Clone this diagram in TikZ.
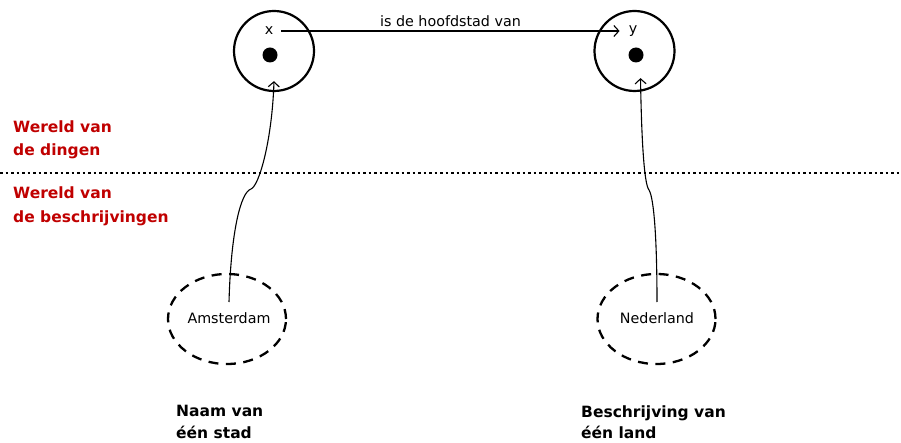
\documentclass[tikz,border=0pt]{standalone}
\usepackage{fontspec}
\setmainfont{DejaVu Sans}
\usetikzlibrary{shapes.geometric, arrows.meta}
\definecolor{wereldrood}{RGB}{192,0,0}

\begin{document}
\begin{tikzpicture}[x=1pt, y=-1pt,
    thing/.style = {draw, circle, line width=2.2pt, minimum size=80pt, inner sep=0pt},
    dot/.style = {circle, fill, minimum size=15pt, inner sep=0pt},
    descr/.style = {draw, ellipse, line width=2.3pt, dash pattern=on 10pt off 7.5pt, minimum width=118pt, minimum height=90pt},
    txt/.style = {font=\fontsize{14.3}{17}\selectfont, inner sep=1pt},
    world/.style = {font=\fontsize{15.5}{23.5}\selectfont\bfseries, text=wereldrood, align=left, anchor=west, inner sep=0pt},
    tag/.style = {font=\fontsize{15.5}{21.5}\selectfont\bfseries, align=left, anchor=west, inner sep=0pt},
    link/.style = {-{Straight Barb[length=5pt, width=11pt, line width=1.1pt]}, line width=1.1pt}]
    \useasboundingbox (0,0) rectangle (901,443);

    \node [thing] (thingx) at (274, 51) {};
    \node [thing] (thingy) at (634.5, 51) {};
    \node [dot] (dotx) at (270, 55) {};
    \node [dot] (doty) at (636, 55) {};
    \node [txt] (labx) at (269, 31) {x};
    \node [txt] (laby) at (633, 31) {y};
    \draw [link] ([xshift=7pt]labx.east) -- ([xshift=-8pt]laby.west)
      node [midway, txt, above=3pt] (rel) {is de hoofdstad van};

    \coordinate (left) at (0, 173);
    \coordinate (right) at (901, 173);
    \draw [line width=2.4pt, dash pattern=on 2.6pt off 2.9pt] (left) -- (right);

    \node [world] (dingen) at (13, 140) {Wereld van\\de dingen};
    \node [world] (beschr) at (13, 206.5) {Wereld van\\de beschrijvingen};

    \node [descr] (ams) at (227, 319) {};
    \node [descr] (ned) at (656.5, 319) {};
    \node [txt] (amsname) at (229, 318) {Amsterdam};
    \node [txt] (nedname) at (657, 318) {Nederland};

    \coordinate (kinkx) at (251, 189);
    \coordinate (kinky) at (649, 190);
    \draw [link] ([yshift=16pt]amsname.center)
      .. controls +(2, -72) and +(-10, 3) .. (kinkx)
      .. controls +(8, -3) and +(-2, 60) .. ([yshift=11pt]thingx.south);
    \draw [link] ([yshift=16pt]nedname.center)
      .. controls +(0, -62) and +(5, 8) .. (kinky)
      .. controls +(-5, -6) and +(1, 60) .. ([xshift=6pt, yshift=14pt]thingy.south);

    \node [tag] (stad) at (176, 422) {Naam van\\één stad};
    \node [tag] (land) at (581, 422) {Beschrijving van\\één land};
\end{tikzpicture}
\end{document}
